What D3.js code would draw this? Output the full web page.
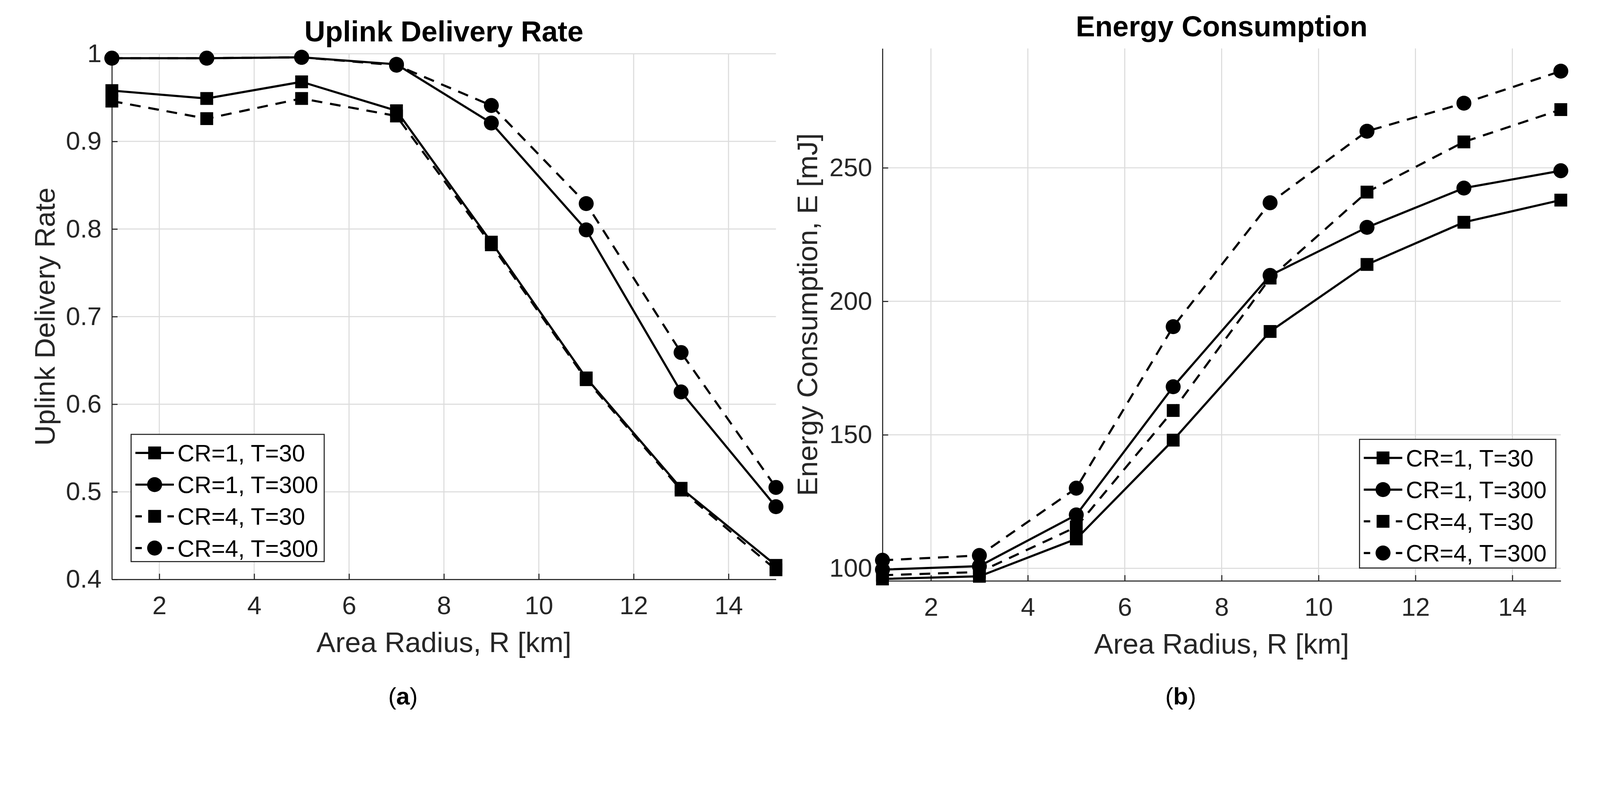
<!DOCTYPE html>
<html>
<head>
<meta charset="utf-8">
<script src="https://cdn.jsdelivr.net/npm/d3@7"></script>
<style>
html,body{margin:0;padding:0;background:#fff;overflow:hidden;}
#chart{display:block;width:100%;height:auto;}
text{font-family:"Liberation Sans",Arial,sans-serif;}
</style>
</head>
<body>
<svg id="chart" viewBox="0 0 4491 2022" preserveAspectRatio="xMidYMin meet"></svg>
<script>
// 데이터
var radius = [1, 3, 5, 7, 9, 11, 13, 15]

var udrCR1T30  = [0.958, 0.949, 0.968, 0.935, 0.785, 0.630, 0.504, 0.416]
var udrCR1T300 = [0.995, 0.995, 0.996, 0.988, 0.921, 0.799, 0.614, 0.483]
var udrCR4T30  = [0.946, 0.926, 0.949, 0.929, 0.782, 0.628, 0.502, 0.411]
var udrCR4T300 = [0.995, 0.995, 0.996, 0.987, 0.941, 0.829, 0.659, 0.505]

var energyCR1T30  = [96.0, 97.0, 111.0, 148.0, 188.7, 213.8, 229.6, 237.9]
var energyCR1T300 = [99.5, 100.8, 120.0, 168.0, 209.7, 227.7, 242.4, 248.9]
var energyCR4T30  = [97.4, 98.6, 115.5, 159.1, 208.7, 240.9, 259.7, 271.8]
var energyCR4T300 = [103.0, 104.8, 130.0, 190.5, 236.9, 263.7, 274.2, 286.2]

var seriesNames = ["CR=1, T=30", "CR=1, T=300", "CR=4, T=30", "CR=4, T=300"]

var xTicks = [2, 4, 6, 8, 10, 12, 14]
var udrTicks = [0.4, 0.5, 0.6, 0.7, 0.8, 0.9, 1]
var energyTicks = [100, 150, 200, 250]

// 스타일
var markerKind = ["square", "circle", "square", "circle"]
var dashed = [false, false, true, true]
var ink = "#262626"

var svg = d3.select("#chart")
svg.append("rect").attr("width", 4491).attr("height", 2022).attr("fill", "#fff")

function draw_panel(cfg){
    var x = d3.scaleLinear().domain([1, 15]).range(cfg.xr)
    var y = d3.scaleLinear().domain(cfg.yd).range(cfg.yr)
    var g = svg.append("g")
    var top = cfg.yr[1], bottom = cfg.yr[0]

    // 그리드
    g.selectAll(".gx").data(xTicks).enter().append("line")
        .attr("x1", d => x(d)).attr("x2", d => x(d))
        .attr("y1", top).attr("y2", bottom)
        .attr("stroke", "#dcdcdc").attr("stroke-width", 3)
    g.selectAll(".gy").data(cfg.yTicks).enter().append("line")
        .attr("x1", cfg.xr[0]).attr("x2", cfg.xr[1])
        .attr("y1", d => y(d)).attr("y2", d => y(d))
        .attr("stroke", "#dcdcdc").attr("stroke-width", 3)

    // 축
    var ax = g.append("g").attr("transform", "translate(0," + bottom + ")")
        .call(d3.axisBottom(x).tickValues(xTicks).tickSize(-16).tickSizeOuter(0).tickPadding(47))
    var ay = g.append("g").attr("transform", "translate(" + cfg.xr[0] + ",0)")
        .call(d3.axisLeft(y).tickValues(cfg.yTicks).tickSize(-16).tickSizeOuter(0).tickPadding(29)
            .tickFormat(d3.format("~g")))
    ;[ax, ay].forEach(function(a){
        a.select(".domain").attr("stroke", ink).attr("stroke-width", 3)
        a.selectAll(".tick line").attr("stroke", ink).attr("stroke-width", 3)
        a.selectAll(".tick text").attr("fill", ink).attr("font-size", 72)
            .attr("font-family", "Liberation Sans, Arial, sans-serif")
    })

    // 제목, 라벨
    var cx = (cfg.xr[0] + cfg.xr[1]) / 2
    g.append("text").attr("x", cx).attr("y", cfg.titleY).attr("text-anchor", "middle")
        .attr("font-size", 81).attr("font-weight", "bold").attr("fill", "#000").text(cfg.title)
    g.append("text").attr("x", cx).attr("y", bottom + 204).attr("text-anchor", "middle")
        .attr("font-size", 80).attr("fill", ink).text("Area Radius, R [km]")
    g.append("text").attr("transform", "translate(" + cfg.ylabX + "," + (top + bottom) / 2 + ") rotate(-90)")
        .attr("text-anchor", "middle").attr("font-size", 80).attr("fill", ink).text(cfg.ylabel)

    // 선과 마커
    var line = d3.line().x((d, i) => x(radius[i])).y(d => y(d))
    cfg.series.forEach(function(vals, s){
        g.append("path").attr("d", line(vals)).attr("fill", "none")
            .attr("stroke", "#000").attr("stroke-width", 6)
            .attr("stroke-dasharray", dashed[s] ? "30,22" : null)
        var pts = g.selectAll(".m" + s).data(vals).enter()
        if(markerKind[s] == "square"){
            pts.append("rect").attr("x", (d, i) => x(radius[i]) - 18).attr("y", d => y(d) - 18)
                .attr("width", 36).attr("height", 36).attr("fill", "#000")
        }else{
            pts.append("circle").attr("cx", (d, i) => x(radius[i])).attr("cy", d => y(d))
                .attr("r", 21).attr("fill", "#000")
        }
    })

    // 범례
    var lg = g.append("g").attr("transform", "translate(" + cfg.legend[0] + "," + cfg.legend[1] + ")")
    lg.append("rect").attr("width", cfg.legend[2]).attr("height", cfg.legend[3])
        .attr("fill", "#fff").attr("stroke", ink).attr("stroke-width", 3)
    seriesNames.forEach(function(name, s){
        var ey = 52 + s * 89
        if(dashed[s]){
            lg.append("line").attr("x1", 12).attr("x2", 30).attr("y1", ey).attr("y2", ey)
                .attr("stroke", "#000").attr("stroke-width", 6)
            lg.append("line").attr("x1", 102).attr("x2", 120).attr("y1", ey).attr("y2", ey)
                .attr("stroke", "#000").attr("stroke-width", 6)
        }else{
            lg.append("line").attr("x1", 12).attr("x2", 120).attr("y1", ey).attr("y2", ey)
                .attr("stroke", "#000").attr("stroke-width", 6)
        }
        if(markerKind[s] == "square"){
            lg.append("rect").attr("x", 66 - 18).attr("y", ey - 18).attr("width", 36).attr("height", 36).attr("fill", "#000")
        }else{
            lg.append("circle").attr("cx", 66).attr("cy", ey).attr("r", 21).attr("fill", "#000")
        }
        lg.append("text").attr("x", 130).attr("y", ey + 24).attr("font-size", 66).attr("fill", "#000").text(name)
    })

    // 캡션
    var cap = svg.append("text").attr("x", cfg.capX).attr("y", 1977).attr("text-anchor", "middle")
        .attr("font-size", 68).attr("font-family", "Liberation Serif, Times New Roman, serif").attr("fill", "#000")
    cap.append("tspan").text("(")
    cap.append("tspan").attr("font-weight", "bold").text(cfg.cap)
    cap.append("tspan").text(")")
}

draw_panel({
    xr: [314, 2178], yd: [0.4, 1], yr: [1626, 151], yTicks: udrTicks,
    title: "Uplink Delivery Rate", titleY: 116,
    ylabel: "Uplink Delivery Rate", ylabX: 153,
    series: [udrCR1T30, udrCR1T300, udrCR4T30, udrCR4T300],
    legend: [368, 1219, 542, 357], capX: 1131, cap: "a"
})

draw_panel({
    xr: [2477, 4381], yd: [95.3, 294.7], yr: [1630, 136], yTicks: energyTicks,
    title: "Energy Consumption", titleY: 102,
    ylabel: "Energy Consumption, E [mJ]", ylabX: 2294,
    series: [energyCR1T30, energyCR1T300, energyCR4T30, energyCR4T300],
    legend: [3816, 1233, 551, 361], capX: 3314, cap: "b"
})
</script>
</body>
</html>
